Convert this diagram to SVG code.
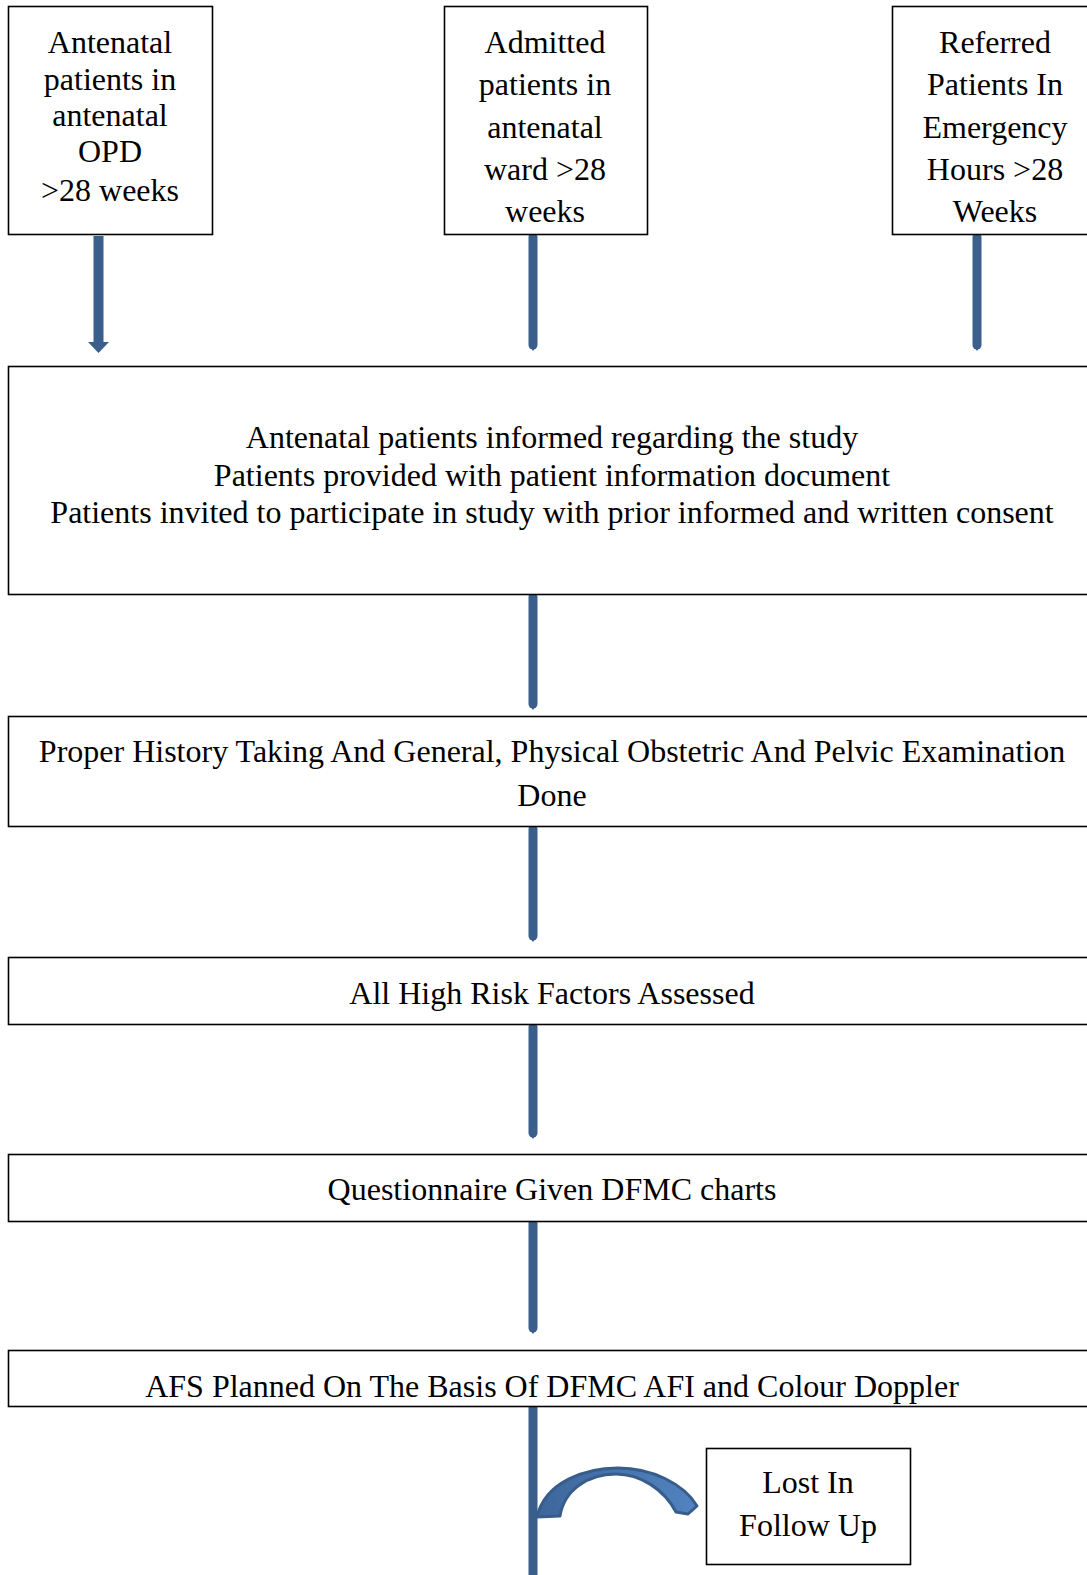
<svg xmlns="http://www.w3.org/2000/svg" width="1087" height="1575" viewBox="0 0 1087 1575">
<defs>
<style>
.box{fill:#fff;stroke:#000;stroke-width:1.6}
.t{font-family:"Liberation Serif","Times New Roman",serif;font-size:32px;fill:#000;text-anchor:middle}
.sh{stroke:#3a5f8c;stroke-width:9;stroke-linecap:round;fill:none}
.tip{fill:#3a5f8c}
</style>
<linearGradient id="cg" x1="0" y1="0" x2="1" y2="0">
<stop offset="0" stop-color="#3d679b"/>
<stop offset="1" stop-color="#5283c0"/>
</linearGradient>
</defs>
<rect width="1087" height="1575" fill="#fff"/>

<g id="connectors">
<line x1="98.5" y1="236" x2="98.5" y2="344" stroke="#3a5f8c" stroke-width="10"/>
<polygon class="tip" points="88,342 109,342 98.5,353"/>
<line class="sh" x1="533" y1="237" x2="533" y2="345"/>
<polygon class="tip" points="529,345 537,345 533,351"/>
<line class="sh" x1="977" y1="237" x2="977" y2="345"/>
<polygon class="tip" points="973,345 981,345 977,351"/>
<line class="sh" x1="533" y1="597" x2="533" y2="704"/>
<polygon class="tip" points="529,704 537,704 533,710"/>
<line class="sh" x1="533" y1="829" x2="533" y2="936"/>
<polygon class="tip" points="529,936 537,936 533,942"/>
<line class="sh" x1="533" y1="1027" x2="533" y2="1133"/>
<polygon class="tip" points="529,1133 537,1133 533,1139"/>
<line class="sh" x1="533" y1="1223" x2="533" y2="1328"/>
<polygon class="tip" points="529,1328 537,1328 533,1334"/>
<line class="sh" x1="533" y1="1408" x2="533" y2="1580"/>
<path d="M537 1517 C545 1482 585 1468 618 1468 C652 1468 684 1484 697 1506 L688 1514 L676 1512 C664 1489 640 1474 616 1474 C588 1474 564 1490 560 1516 Z" fill="url(#cg)" stroke="#385d8a" stroke-width="3" stroke-linejoin="round"/>
</g>

<g id="node-opd">
<rect class="box" x="8.5" y="6.5" width="204" height="228"/>
<text class="t" x="110" y="53">Antenatal</text>
<text class="t" x="110" y="90">patients in</text>
<text class="t" x="110" y="126">antenatal</text>
<text class="t" x="110" y="162">OPD</text>
<text class="t" x="110" y="201">&gt;28 weeks</text>
</g>

<g id="node-ward">
<rect class="box" x="444.5" y="6.5" width="203" height="228"/>
<text class="t" x="545" y="53">Admitted</text>
<text class="t" x="545" y="95">patients in</text>
<text class="t" x="545" y="138">antenatal</text>
<text class="t" x="545" y="180">ward &gt;28</text>
<text class="t" x="545" y="222">weeks</text>
</g>

<g id="node-referred">
<rect class="box" x="892.5" y="6.5" width="210" height="228"/>
<text class="t" x="995" y="53">Referred</text>
<text class="t" x="995" y="95">Patients In</text>
<text class="t" x="995" y="138">Emergency</text>
<text class="t" x="995" y="180">Hours &gt;28</text>
<text class="t" x="995" y="222">Weeks</text>
</g>

<g id="node-informed">
<rect class="box" x="8.5" y="366.5" width="1100" height="228"/>
<text class="t" x="552" y="448">Antenatal patients informed regarding the study</text>
<text class="t" x="552" y="486">Patients provided with patient information document</text>
<text class="t" x="552" y="523">Patients invited to participate in study with prior informed and written consent</text>
</g>

<g id="node-history">
<rect class="box" x="8.5" y="716.5" width="1100" height="110"/>
<text class="t" x="552" y="762">Proper History Taking And General, Physical Obstetric And Pelvic Examination</text>
<text class="t" x="552" y="806">Done</text>
</g>

<g id="node-risk">
<rect class="box" x="8.5" y="957.5" width="1100" height="67"/>
<text class="t" x="552" y="1004">All High Risk Factors Assessed</text>
</g>

<g id="node-questionnaire">
<rect class="box" x="8.5" y="1154.5" width="1100" height="67"/>
<text class="t" x="552" y="1200">Questionnaire Given DFMC charts</text>
</g>

<g id="node-afs">
<rect class="box" x="8.5" y="1350.5" width="1100" height="56"/>
<text class="t" x="552" y="1397">AFS Planned On The Basis Of DFMC AFI and Colour Doppler</text>
</g>

<g id="node-lost">
<rect class="box" x="706.5" y="1448.5" width="204" height="116"/>
<text class="t" x="808" y="1493">Lost In</text>
<text class="t" x="808" y="1536">Follow Up</text>
</g>
</svg>
